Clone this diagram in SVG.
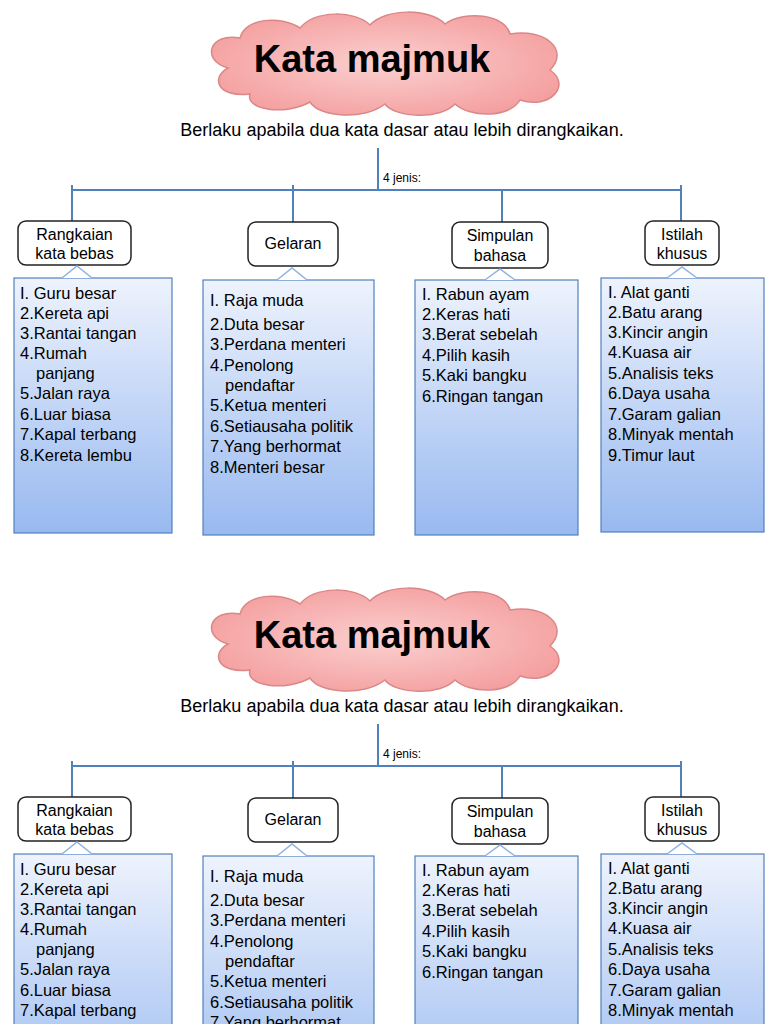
<svg xmlns="http://www.w3.org/2000/svg" xmlns:xlink="http://www.w3.org/1999/xlink" width="768" height="1024" viewBox="0 0 768 1024">
<style>
text{font-family:"Liberation Sans",Arial,sans-serif;fill:#000}
.hd{fill:#fff;stroke:#222;stroke-width:1.5}
.bx{fill:url(#g);stroke:#4f81bd;stroke-width:1.2}
.ln{stroke:#4f81bd;stroke-width:2;fill:none}
.it{font-size:16.5px}
.h{font-size:16px;text-anchor:middle}
.ptr{fill:#fff;stroke:#8fb0e0;stroke-width:1.5}
</style>
<defs>
<linearGradient id="g" x1="0" y1="0" x2="0" y2="1"><stop offset="0" stop-color="#eef3fd"/><stop offset="1" stop-color="#98b9f0"/></linearGradient>
<radialGradient id="cg" cx="0.5" cy="0.5" r="0.6"><stop offset="0" stop-color="#fbd0d0"/><stop offset="1" stop-color="#f49c9c"/></radialGradient>
</defs>
<rect width="768" height="1024" fill="#fff"/>
<g id="panel">
<g id="cloud">
<path d="M228,68 C200,60 210,32 240,38 C245,18 280,15 300,28 C315,10 355,10 370,25 C385,8 430,8 445,24 C465,10 505,14 510,34 C545,28 570,50 550,70 C572,85 550,110 520,100 C510,118 470,118 455,104 C440,120 395,118 385,104 C365,120 320,118 310,102 C285,116 245,110 250,94 C218,98 210,78 228,68 Z" fill="url(#cg)" stroke="#d98888" stroke-width="1.5"/>
<text x="372" y="72" font-size="38" text-anchor="middle" font-weight="bold">Kata majmuk</text>
</g>
<text x="402" y="136" font-size="18" text-anchor="middle">Berlaku apabila dua kata dasar atau lebih dirangkaikan.</text>
<g id="connectors">
<path class="ln" d="M378,148 V190 M72,190 H681 M72,185 V221 M293,185 V222 M502,190 V222 M681,185 V221"/>
</g>
<text x="383" y="182" font-size="12">4 jenis:</text>
<g id="n1"><rect class="hd" x="18" y="221" width="113" height="44" rx="8"/><text class="h" x="74.5" y="240">Rangkaian</text><text class="h" x="74.5" y="259">kata bebas</text>
<rect class="bx" x="14" y="278" width="158" height="255"/><path class="ptr" d="M62,278 L77,266 L92,278"/>
<text class="it" x="20" y="299">I. Guru besar</text><text class="it" x="20" y="319">2.Kereta api</text><text class="it" x="20" y="339">3.Rantai tangan</text><text class="it" x="20" y="359">4.Rumah</text><text class="it" x="36" y="379">panjang</text><text class="it" x="20" y="399">5.Jalan raya</text><text class="it" x="20" y="420">6.Luar biasa</text><text class="it" x="20" y="440">7.Kapal terbang</text><text class="it" x="20" y="461">8.Kereta lembu</text></g>
<g id="n2"><rect class="hd" x="248" y="222" width="90" height="44" rx="8"/><text class="h" x="293" y="249">Gelaran</text>
<rect class="bx" x="203" y="280" width="171" height="255"/><path class="ptr" d="M277,280 L292,268 L307,280"/>
<text class="it" x="210" y="306">I. Raja muda</text><text class="it" x="210" y="330">2.Duta besar</text><text class="it" x="210" y="350">3.Perdana menteri</text><text class="it" x="210" y="371">4.Penolong</text><text class="it" x="225" y="391">pendaftar</text><text class="it" x="210" y="411">5.Ketua menteri</text><text class="it" x="210" y="432">6.Setiausaha politik</text><text class="it" x="210" y="452">7.Yang berhormat</text><text class="it" x="210" y="473">8.Menteri besar</text></g>
<g id="n3"><rect class="hd" x="452" y="222" width="96" height="46" rx="8"/><text class="h" x="500" y="241">Simpulan</text><text class="h" x="500" y="261">bahasa</text>
<rect class="bx" x="415" y="280" width="163" height="255"/><path class="ptr" d="M485,280 L500,269 L515,280"/>
<text class="it" x="422" y="300">I. Rabun ayam</text><text class="it" x="422" y="320">2.Keras hati</text><text class="it" x="422" y="340">3.Berat sebelah</text><text class="it" x="422" y="361">4.Pilih kasih</text><text class="it" x="422" y="381">5.Kaki bangku</text><text class="it" x="422" y="402">6.Ringan tangan</text></g>
<g id="n4"><rect class="hd" x="645" y="221" width="74" height="44" rx="8"/><text class="h" x="682" y="240">Istilah</text><text class="h" x="682" y="259">khusus</text>
<rect class="bx" x="601" y="278" width="163" height="254"/><path class="ptr" d="M667,278 L682,267 L697,278"/>
<text class="it" x="608" y="298">I. Alat ganti</text><text class="it" x="608" y="318">2.Batu arang</text><text class="it" x="608" y="338">3.Kincir angin</text><text class="it" x="608" y="358">4.Kuasa air</text><text class="it" x="608" y="379">5.Analisis teks</text><text class="it" x="608" y="399">6.Daya usaha</text><text class="it" x="608" y="420">7.Garam galian</text><text class="it" x="608" y="440">8.Minyak mentah</text><text class="it" x="608" y="461">9.Timur laut</text></g>
</g>
<use xlink:href="#panel" href="#panel" y="576"/>
</svg>
